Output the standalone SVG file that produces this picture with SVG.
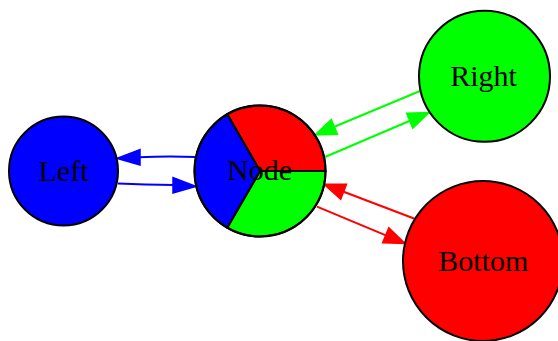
<svg xmlns="http://www.w3.org/2000/svg" width="558" height="341" viewBox="0 0 558 341">
  <style>
    .node circle, .wedge { stroke: #000; stroke-width: 2; }
    .label { font-family: "Liberation Serif", "Times New Roman", serif; font-size: 30px; text-anchor: middle; fill: #000; }
    .edge path { stroke-width: 2; fill: none; }
    .blue { stroke: #0000ff; }
    .blue-f { fill: #0000ff; stroke: #0000ff; stroke-width: 1.5; }
    .green { stroke: #00ff00; }
    .green-f { fill: #00ff00; stroke: #00ff00; stroke-width: 1.5; }
    .red { stroke: #ff0000; }
    .red-f { fill: #ff0000; stroke: #ff0000; stroke-width: 1.5; }
  </style>
  <rect width="558" height="341" fill="#fff"/>

  <g id="connectors">
    <!-- Node -> Left -->
    <g class="edge">
      <path class="blue" d="M196,157 Q168,156 139,157.2"/>
      <polygon class="blue-f" points="140,149.5 140,165 117,158.3"/>
    </g>
    <!-- Left -> Node -->
    <g class="edge">
      <path class="blue" d="M118,183.5 Q145,184.5 174,185"/>
      <polygon class="blue-f" points="173,177.5 173,193 196,186.5"/>
    </g>
    <!-- Right -> Node -->
    <g class="edge">
      <path class="green" d="M420,91 L335,126.5"/>
      <polygon class="green-f" points="337.5,134.3 331.3,119.5 315,135"/>
    </g>
    <!-- Node -> Right -->
    <g class="edge">
      <path class="green" d="M325,157 L410.5,120.5"/>
      <polygon class="green-f" points="412.8,128.1 406.6,113.3 429,112.5"/>
    </g>
    <!-- Bottom -> Node -->
    <g class="edge">
      <path class="red" d="M414,218.5 L343,191.5"/>
      <polygon class="red-f" points="346.5,184.3 340.7,199.3 324,184.3"/>
    </g>
    <!-- Node -> Bottom -->
    <g class="edge">
      <path class="red" d="M317,206.7 L386.5,235.7"/>
      <polygon class="red-f" points="382.6,242.7 388.8,227.9 405,243.5"/>
    </g>
  </g>

  <g id="left" class="node">
    <circle cx="63.5" cy="171" r="54.5" fill="#0000ff"/>
    <text class="label" x="63.5" y="180.5">Left</text>
  </g>

  <g id="node" class="node">
    <path class="wedge" fill="#ff0000" d="M260,171 L227.25,114.28 A65.5,65.5 0 0 1 325.5,171 Z"/>
    <path class="wedge" fill="#00ff00" d="M260,171 L325.5,171 A65.5,65.5 0 0 1 227.25,227.72 Z"/>
    <path class="wedge" fill="#0000ff" d="M260,171 L227.25,227.72 A65.5,65.5 0 0 1 227.25,114.28 Z"/>
    <circle cx="260" cy="171" r="65.5" fill="none"/>
    <text class="label" x="259.5" y="180">Node</text>
  </g>

  <g id="right" class="node">
    <circle cx="484.5" cy="76.3" r="65.5" fill="#00ff00"/>
    <text class="label" x="483.5" y="85.5">Right</text>
  </g>

  <g id="bottom" class="node">
    <circle cx="483" cy="261" r="80" fill="#ff0000"/>
    <text class="label" x="483.3" y="271">Bottom</text>
  </g>
</svg>
